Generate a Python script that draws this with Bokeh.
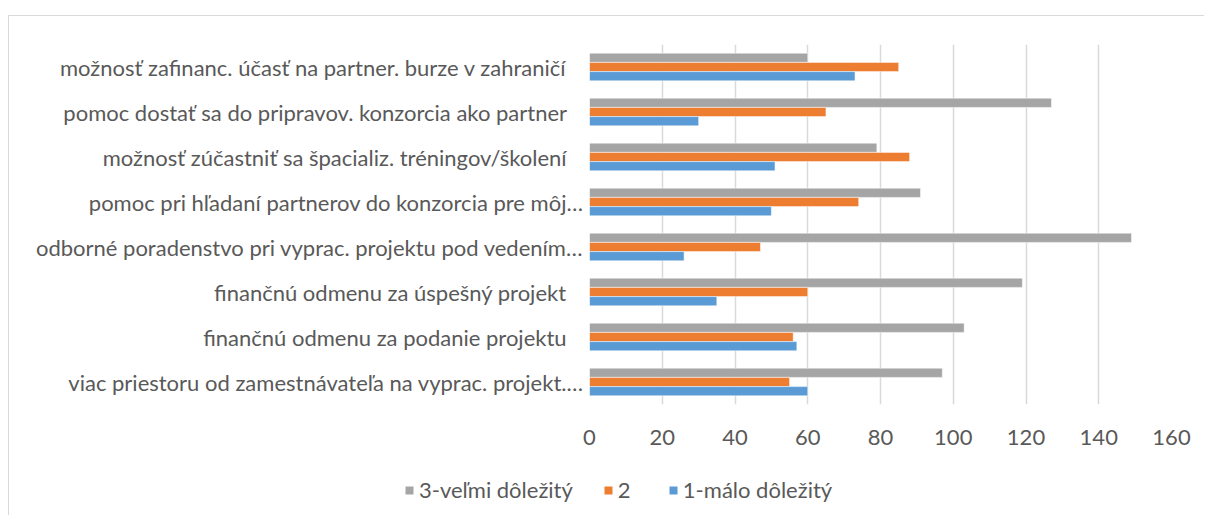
from bokeh.plotting import figure
from bokeh.models import (ColumnDataSource, FactorRange, Range1d, FixedTicker, Legend, LegendItem,
                          CustomJSTickFormatter)
from bokeh.transform import dodge
from bokeh.embed import file_html
from bokeh.resources import INLINE

# categories, listed top to bottom as in the chart
categories = [
    "možnosť zafinanc. účasť na partner. burze v zahraničí",
    "pomoc dostať sa do pripravov. konzorcia ako partner",
    "možnosť zúčastniť sa špacializ. tréningov/školení",
    "pomoc pri hľadaní partnerov do konzorcia pre môj…",
    "odborné poradenstvo pri vyprac. projektu pod vedením…",
    "finančnú odmenu za úspešný projekt",
    "finančnú odmenu za podanie projektu",
    "viac priestoru od zamestnávateľa na vyprac. projekt.…",
]
series_names = ["3-veľmi dôležitý", "2", "1-málo dôležitý"]
values_3 = [60, 127, 79, 91, 149, 119, 103, 97]
values_2 = [85, 65, 88, 74, 47, 60, 56, 55]
values_1 = [73, 30, 51, 50, 26, 35, 57, 60]
x_ticks = [0, 20, 40, 60, 80, 100, 120, 140, 160]

colors = ["#A5A5A5", "#ED7D31", "#5B9BD5"]
FONT = "Lato"
TXT = "#595959"
FS = "22px"

src = ColumnDataSource(dict(cat=categories, v3=values_3, v2=values_2, v1=values_1))

yr = FactorRange(factors=list(reversed(categories)), range_padding=0)
xr = Range1d(0, 160)
p = figure(width=1196, height=450, y_range=yr, x_range=xr,
           output_backend="svg", toolbar_location=None,
           min_border_left=580, min_border_right=34, min_border_top=28, min_border_bottom=62)
p.margin = (15, 0, 0, 8)
p.styles = {"border-left": "1px solid #d9d9d9", "border-top": "1px solid #d9d9d9"}
p.outline_line_color = None
p.background_fill_color = "white"
p.border_fill_color = "white"

bw = 0.205
r3 = p.hbar(y=dodge("cat", bw, range=yr), right="v3", left=0, height=bw, source=src,
            fill_color=colors[0], line_color="white", line_width=0.5)
r2 = p.hbar(y=dodge("cat", 0, range=yr), right="v2", left=0, height=bw, source=src,
            fill_color=colors[1], line_color="white", line_width=0.5)
r1 = p.hbar(y=dodge("cat", -bw, range=yr), right="v1", left=0, height=bw, source=src,
            fill_color=colors[2], line_color="white", line_width=0.5)

p.xaxis.ticker = FixedTicker(ticks=x_ticks)
p.xgrid.ticker = FixedTicker(ticks=x_ticks)
p.xgrid.grid_line_color = "#d9d9d9"
p.xgrid.grid_line_width = 1.5
p.ygrid.grid_line_color = None

for ax in (p.xaxis[0], p.yaxis[0]):
    ax.axis_line_color = None
    ax.major_tick_line_color = None
    ax.minor_tick_line_color = None
    ax.major_label_text_font = FONT
    ax.major_label_text_font_size = FS
    ax.major_label_text_color = TXT

p.xaxis.major_label_standoff = 19
p.yaxis.major_label_standoff = 0
p.yaxis.formatter = CustomJSTickFormatter(
    code="return tick.endsWith('\u2026') ? tick : tick + '\u00a0\u00a0\u00a0';")

# legend strip below the chart (hidden copies of the same series act as legend proxies)
pl = figure(width=1196, height=50, y_range=yr, x_range=xr,
            x_axis_location=None, y_axis_location=None,
            output_backend="svg", toolbar_location=None,
            min_border_left=0, min_border_right=0, min_border_top=0, min_border_bottom=0)
pl.margin = (0, 0, 0, 8)
pl.styles = {"border-left": "1px solid #d9d9d9"}
pl.grid.visible = False
pl.outline_line_color = None
q3 = pl.hbar(y="cat", right="v3", left=0, height=bw, source=src, fill_color=colors[0], line_color=None, visible=False)
q2 = pl.hbar(y="cat", right="v2", left=0, height=bw, source=src, fill_color=colors[1], line_color=None, visible=False)
q1 = pl.hbar(y="cat", right="v1", left=0, height=bw, source=src, fill_color=colors[2], line_color=None, visible=False)

legend = Legend(items=[LegendItem(label=series_names[0], renderers=[q3]),
                       LegendItem(label=series_names[1], renderers=[q2]),
                       LegendItem(label=series_names[2], renderers=[q1])],
                orientation="horizontal", location=(395, 12),
                label_text_font=FONT, label_text_font_size=FS, label_text_color=TXT,
                glyph_width=10, glyph_height=10, label_standoff=5, spacing=30,
                inactive_fill_alpha=0,
                border_line_color=None, background_fill_alpha=0, padding=0, margin=0)
pl.add_layout(legend, "center")

open("out.html", "w").write(file_html([p, pl], INLINE))
